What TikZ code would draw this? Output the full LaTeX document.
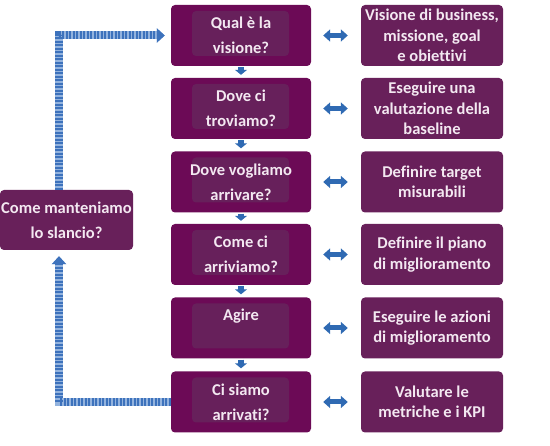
\documentclass[tikz,border=0pt]{standalone}
\usepackage{fontspec}
\setmainfont{Carlito}[Ligatures=NoCommon]
\usetikzlibrary{arrows.meta}
\definecolor{qpurple}{HTML}{6C0A56}
\definecolor{innerpurple}{HTML}{67205B}
\definecolor{rpurple}{HTML}{68205A}
\definecolor{textpink}{HTML}{F3E8F1}
\definecolor{arrowblue}{HTML}{2F6AB3}
\definecolor{stripeblue}{HTML}{3D72BC}
\definecolor{stripelight}{HTML}{93B3DE}

\begin{document}
\begin{tikzpicture}[x=1pt,y=-1pt,
  qbox/.style={fill=qpurple, rounded corners=4pt, minimum width=140pt, minimum height=61pt,
    inner sep=0pt, text=textpink, align=center, font=\fontsize{16.5}{25}\selectfont\bfseries,
    path picture={\fill[innerpurple] ([xshift=21pt,yshift=-6pt]path picture bounding box.north west)
      rectangle ([xshift=-22pt,yshift=10pt]path picture bounding box.south east);}},
  rbox/.style={fill=rpurple, rounded corners=4pt, minimum width=142pt, minimum height=61pt,
    inner sep=0pt, text=textpink, align=center, font=\fontsize{16.5}{20.5}\selectfont\bfseries},
  dblarrow/.style={line width=5pt, arrowblue, {Triangle[width=12pt,length=7pt]}-{Triangle[width=12pt,length=7pt]},
    shorten <=12pt, shorten >=13pt},
  downarrow/.style={line width=6pt, arrowblue, -{Triangle[width=12pt,length=5pt]},
    shorten <=1pt, shorten >=3pt},
  loopline/.style={line width=8pt, stripeblue, dash pattern=on 2.2pt off 1.3pt,
    -{Triangle[width=14pt,length=8pt]}, shorten >=6pt,
    preaction={draw, stripelight, solid, line width=8pt, -{Triangle[width=14pt,length=8pt]}, shorten >=6pt}}]
\useasboundingbox (0,0) rectangle (550,446);
% question column
\node[qbox] (Q1) at (241,35.5) {Qual è la\\visione?};
\node[qbox] (Q2) at (241,108.5) {Dove ci\\troviamo?};
\node[qbox] (Q3) at (241,182) {Dove vogliamo\\arrivare?};
\node[qbox] (Q4) at (241,254.5) {Come ci\\arriviamo?};
\node[qbox] (Q5) at (241,328) {Agire\\[2pt]};
\node[qbox] (Q6) at (241,402) {Ci siamo\\arrivati?};
% answer column
\node[rbox] (R1) at (432,35.5) {Visione di business,\\missione, goal\\e obiettivi};
\node[rbox] (R2) at (432,108.5) {Eseguire una\\valutazione della\\baseline};
\node[rbox] (R3) at (432,182) {Definire target\\misurabili};
\node[rbox] (R4) at (432,254.5) {Definire il piano\\di miglioramento};
\node[rbox] (R5) at (432,328) {Eseguire le azioni\\di miglioramento};
\node[rbox] (R6) at (432,402) {Valutare le\\metriche e i KPI};
\node[rbox, minimum width=133pt, minimum height=60pt, font=\fontsize{16.5}{25}\selectfont\bfseries]
  (M) at (66.5,220) {Come manteniamo\\lo slancio?};
% arrows
\draw[downarrow] (Q1) -- (Q2);
\draw[downarrow] (Q2) -- (Q3);
\draw[downarrow] (Q3) -- (Q4);
\draw[downarrow] (Q4) -- (Q5);
\draw[downarrow] (Q5) -- (Q6);
\draw[dblarrow] (Q1) -- (R1);
\draw[dblarrow] (Q2) -- (R2);
\draw[dblarrow] (Q3) -- (R3);
\draw[dblarrow] (Q4) -- (R4);
\draw[dblarrow] (Q5) -- (R5);
\draw[dblarrow] (Q6) -- (R6);
\draw[loopline] ([xshift=-7.5pt]M.north) |- (Q1.west);
\draw[loopline] (Q6.west) -| ([xshift=-7.5pt]M.south);
\end{tikzpicture}
\end{document}
